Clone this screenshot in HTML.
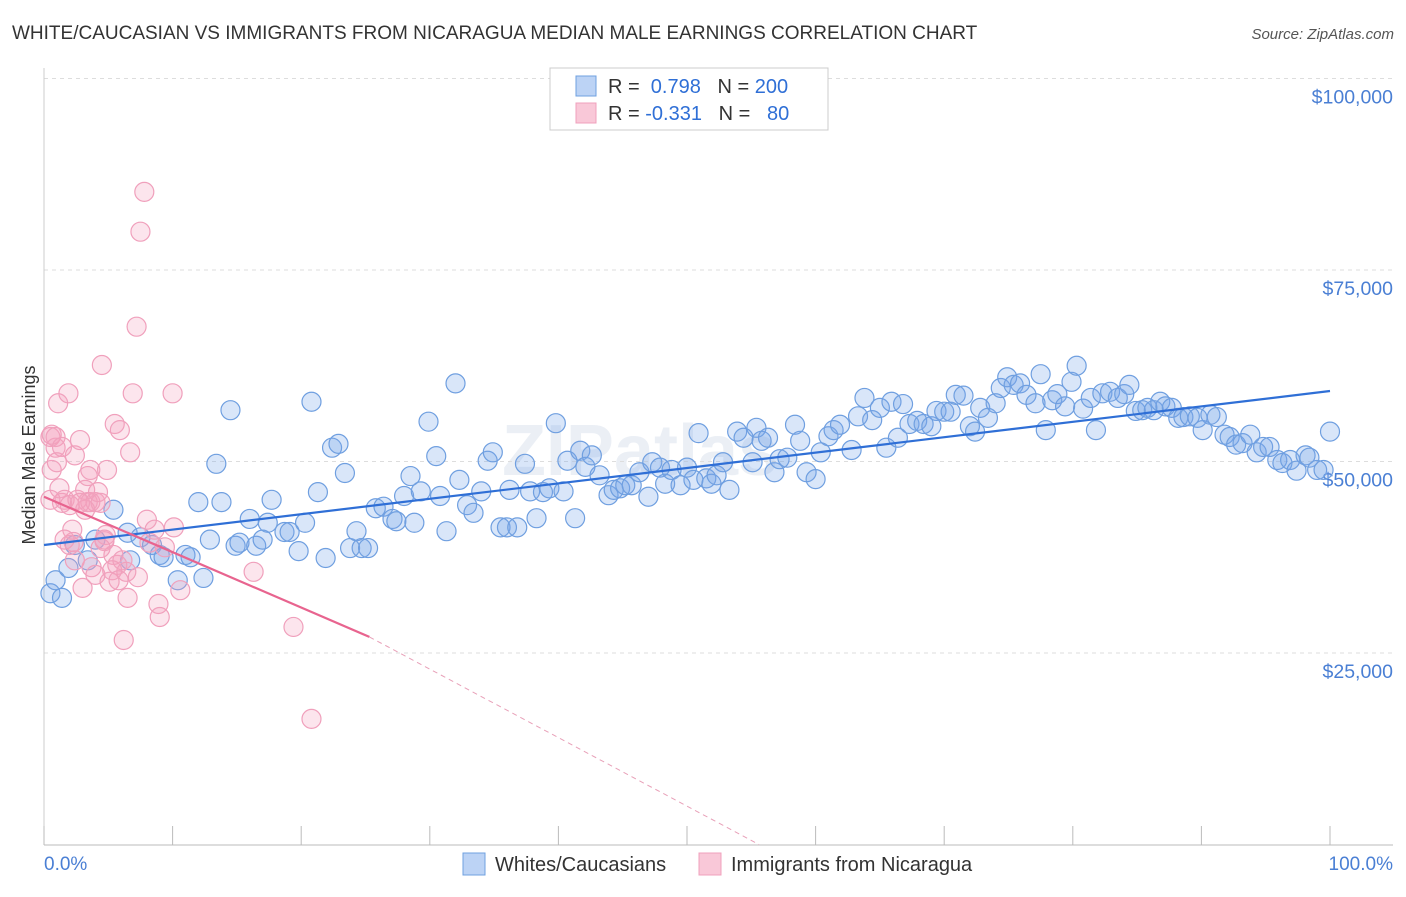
<!DOCTYPE html>
<html><head><meta charset="utf-8">
<style>
body{margin:0;background:#fff;font-family:"Liberation Sans",sans-serif;}
svg text{font-family:"Liberation Sans",sans-serif;}
</style></head>
<body>
<svg id="chart" width="1406" height="892" xmlns="http://www.w3.org/2000/svg">
<text x="12" y="39" font-size="19" fill="#333">WHITE/CAUCASIAN VS IMMIGRANTS FROM NICARAGUA MEDIAN MALE EARNINGS CORRELATION CHART</text>
<text x="1394" y="39" font-size="15" fill="#555" font-style="italic" text-anchor="end">Source: ZipAtlas.com</text>
<text x="35" y="455" font-size="18" fill="#333" text-anchor="middle" transform="rotate(-90 35 455)">Median Male Earnings</text>
<text x="640" y="475" font-size="72" fill="#dfe6f0" font-weight="bold" text-anchor="middle" opacity="0.6">ZIPatlas</text>
<g id="grid"></g><g id="ticks"></g><g id="pts"></g><g id="lines"></g>
<g>
<rect x="550" y="68" width="278" height="62" fill="#fff" stroke="#ccc"/>
<rect x="576" y="76" width="20" height="20" fill="#bcd3f5" stroke="#6fa0e0"/>
<rect x="576" y="103" width="20" height="20" fill="#f9c8d8" stroke="#f0a0bc"/>
<text x="608" y="93" font-size="20" fill="#333">R = <tspan fill="#2f6fd6">&#160;0.798</tspan>&#160;&#160;&#160;N = <tspan fill="#2f6fd6">200</tspan></text>
<text x="608" y="120" font-size="20" fill="#333">R = <tspan fill="#2f6fd6">-0.331</tspan>&#160;&#160;&#160;N = <tspan fill="#2f6fd6">&#160;&#160;80</tspan></text>
</g>
<g>
<rect x="463" y="853" width="22" height="22" fill="#bcd3f5" stroke="#6fa0e0"/>
<text x="495" y="871" font-size="20" fill="#333">Whites/Caucasians</text>
<rect x="699" y="853" width="22" height="22" fill="#f9c8d8" stroke="#f0a0bc"/>
<text x="731" y="871" font-size="20" fill="#333">Immigrants from Nicaragua</text>
</g>
<text x="44" y="870" font-size="19" fill="#4a7fd4">0.0%</text>
<text x="1393" y="870" font-size="19" fill="#4a7fd4" text-anchor="end">100.0%</text>
</svg>
<script>
const yTicks=[25,50,75,100];
const yTickLabels=["$25,000","$50,000","$75,000","$100,000"];
const xTicks=[0,10,20,30,40,50,60,70,80,90,100];
const blueX=[0.5,1.4,0.9,1.9,2.4,3.4,4.0,5.4,6.5,6.7,7.5,8.4,9.0,9.3,10.4,11.0,11.4,12.0,12.4,12.9,13.4,13.8,14.5,14.9,15.2,16.0,16.5,17.0,17.4,17.7,18.7,19.1,19.8,20.3,20.8,21.3,21.9,22.4,22.9,23.4,23.8,24.3,24.7,25.2,25.8,26.4,27.1,27.4,28.0,28.5,28.8,29.3,29.9,30.5,30.8,31.3,32.0,32.3,32.9,33.4,34.0,34.5,34.9,35.5,36.0,36.2,36.8,37.4,37.8,38.3,38.8,39.3,39.8,40.4,40.7,41.3,41.7,42.1,42.6,43.2,43.9,44.3,44.8,45.2,45.7,46.3,47.0,47.3,47.9,48.3,48.8,49.5,50.0,50.5,50.9,51.5,51.9,52.3,52.8,53.3,53.9,54.4,55.1,55.4,55.8,56.3,56.8,57.2,57.8,58.4,58.8,59.3,60.0,60.4,61.0,61.4,61.9,62.8,63.3,63.8,64.4,65.0,65.5,65.9,66.4,66.8,67.3,67.9,68.4,69.0,69.4,70.0,70.5,70.9,71.5,72.0,72.4,72.8,73.4,74.0,74.4,74.9,75.4,75.9,76.4,77.1,77.5,77.9,78.4,78.8,79.4,79.9,80.3,80.8,81.4,81.8,82.3,82.9,83.5,84.0,84.4,84.9,85.4,85.8,86.3,86.8,87.2,87.7,88.2,88.6,89.1,89.7,90.1,90.7,91.2,91.8,92.2,92.7,93.2,93.8,94.3,94.8,95.3,95.9,96.3,96.9,97.4,98.1,98.4,99.0,99.5,100];
const blueY=[32.8,32.2,34.5,36.1,39.1,37.1,39.8,43.7,40.7,37.1,40.1,39.1,37.8,37.5,34.5,37.8,37.5,44.7,34.8,39.8,49.7,44.7,56.7,39.0,39.4,42.5,39.0,39.8,42.0,45.0,40.8,40.8,38.3,42.0,57.8,46.0,37.4,51.8,52.3,48.5,38.7,40.9,38.7,38.7,43.9,44.1,42.5,42.2,45.5,48.1,42.0,46.1,55.2,50.7,45.5,40.9,60.2,47.6,44.3,43.3,46.1,50.1,51.2,41.4,41.4,46.3,41.4,49.7,46.1,42.6,46.0,46.5,55.0,46.1,50.1,42.6,51.4,49.3,50.8,48.2,45.6,46.3,46.5,46.9,46.9,48.6,45.4,49.9,49.2,47.1,48.9,46.9,49.2,47.6,53.7,47.8,47.1,48.2,49.9,46.3,53.9,53.1,49.9,54.4,52.7,53.1,48.6,50.3,50.5,54.8,52.7,48.6,47.7,51.2,53.3,54.1,54.8,51.5,55.9,58.3,55.4,57.0,51.8,57.8,53.1,57.5,54.9,55.3,54.9,54.6,56.6,56.5,56.5,58.7,58.6,54.6,53.9,57.0,55.7,57.6,59.6,61.0,60.0,60.2,58.7,57.6,61.4,54.1,58.0,58.8,57.2,60.4,62.5,56.9,58.3,54.1,58.9,59.1,58.3,58.8,60.0,56.6,56.7,57.0,56.7,57.8,57.2,57.0,55.7,55.8,55.9,55.7,54.1,56.1,55.8,53.5,53.2,52.2,52.4,53.5,51.2,51.9,51.9,50.2,49.8,50.2,48.8,50.8,50.5,48.9,48.9,53.9];
const pinkX=[0.5,0.6,0.9,1.1,1.2,1.4,1.6,1.9,2.0,2.3,2.4,2.6,2.8,3.0,3.2,3.4,3.6,3.7,4.0,4.2,4.4,4.5,4.7,4.8,4.9,5.1,5.4,5.5,5.7,5.9,6.1,6.2,6.4,6.5,6.7,6.9,7.2,7.3,7.5,7.8,8.0,8.2,8.6,8.9,9.0,9.4,10.0,10.1,10.6,16.3,19.4,20.8,0.5,0.6,0.9,1.0,1.4,1.6,2.2,3.2,3.4,4.0,4.4,4.7,5.3,5.8,2.0,2.4,2.8,3.6];
const pinkY=[53.2,48.9,51.8,57.6,46.5,44.6,45.0,58.9,39.1,39.5,50.8,45.0,52.8,33.5,46.3,44.7,44.7,36.2,44.7,46.0,44.6,62.6,39.6,40.4,48.9,34.3,37.8,54.9,36.5,54.1,37.1,26.7,35.6,32.2,51.2,58.9,67.6,34.9,80.0,85.2,42.4,39.4,41.1,31.4,29.7,38.8,58.9,41.4,33.2,35.6,28.4,16.4,45.0,53.5,53.2,49.9,51.9,39.8,41.1,43.7,48.1,35.2,38.7,39.8,35.8,34.5,44.3,37.1,44.6,48.9];
const blueLine=[[0,39.1],[100,59.2]];
const pinkLine=[[0,45.4],[25.3,27.1]];
const pinkDash=[[25.3,27.1],[55.6,0]];
const NS="http://www.w3.org/2000/svg";
const xs=v=>44+v*12.86;
const ys=v=>844.5-v*7.66;
function mk(tag,attrs,parent){const e=document.createElementNS(NS,tag);for(const k in attrs)e.setAttribute(k,attrs[k]);parent.appendChild(e);return e;}
const grid=document.getElementById('grid'),ticks=document.getElementById('ticks'),pts=document.getElementById('pts'),lines=document.getElementById('lines');
yTicks.forEach((t,i)=>{
 const l=mk('line',{x1:44,x2:1393,y1:ys(t),y2:ys(t),stroke:'#ddd','stroke-dasharray':'4,4'},grid);
 
 
 const tx=mk('text',{x:1393,y:ys(t)+25,'font-size':19.5,fill:'#4a7fd4','text-anchor':'end'},ticks);
 tx.textContent=yTickLabels[i];
 
 
});
const ax=mk('line',{x1:44,x2:1393,y1:845,y2:845,stroke:'#bbb'},ticks);


const ay=mk('line',{x1:44,x2:44,y1:68,y2:845,stroke:'#ccc'},ticks);


xTicks.forEach(t=>{
 const l=mk('line',{x1:xs(t),x2:xs(t),y1:826,y2:845,stroke:'#bbb'},ticks);
 
 
});
blueX.forEach((x,i)=>{
 const c=mk('circle',{cx:xs(x),cy:ys(blueY[i]),r:9.5,fill:'rgba(120,165,235,0.28)',stroke:'#6f9fe0','stroke-width':1.2},pts);
 
 
});
pinkX.forEach((x,i)=>{
 const c=mk('circle',{cx:xs(x),cy:ys(pinkY[i]),r:9.5,fill:'rgba(245,160,190,0.28)',stroke:'#f0a0bc','stroke-width':1.2},pts);
 
 
});
const bl=mk('line',{x1:xs(blueLine[0][0]),y1:ys(blueLine[0][1]),x2:xs(blueLine[1][0]),y2:ys(blueLine[1][1]),stroke:'#2f6fd6','stroke-width':2.2},lines);


const pl=mk('line',{x1:xs(pinkLine[0][0]),y1:ys(pinkLine[0][1]),x2:xs(pinkLine[1][0]),y2:ys(pinkLine[1][1]),stroke:'#e8648f','stroke-width':2.2},lines);


const pd=mk('line',{x1:xs(pinkDash[0][0]),y1:ys(pinkDash[0][1]),x2:xs(pinkDash[1][0]),y2:ys(pinkDash[1][1]),stroke:'#e8a0b8','stroke-width':1,'stroke-dasharray':'5,4'},lines);


</script>
</body></html>
